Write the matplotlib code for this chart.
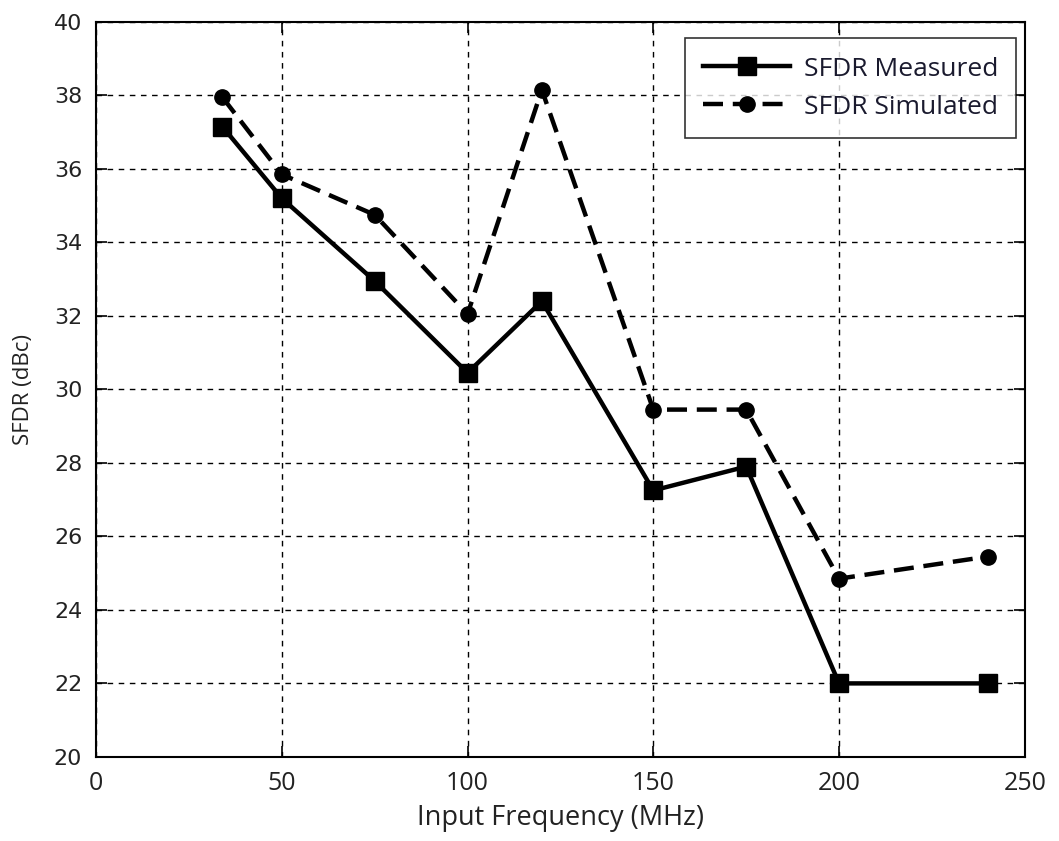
import matplotlib
matplotlib.use("Agg")
import matplotlib.pyplot as plt

freq = [34, 50, 75, 100, 120, 150, 175, 200, 240]
sfdr_measured = [37.15, 35.2, 32.95, 30.45, 32.4, 27.25, 27.9, 22.0, 22.0]
sfdr_simulated = [37.95, 35.85, 34.75, 32.05, 38.15, 29.45, 29.45, 24.85, 25.45]
xticks = [0, 50, 100, 150, 200, 250]
yticks = [20, 22, 24, 26, 28, 30, 32, 34, 36, 38, 40]

fig = plt.figure(figsize=(10.59, 8.41), dpi=100)
ax = fig.add_axes([0.0907, 0.100, 0.877, 0.874])

ax.plot(freq, sfdr_measured, '-', color='black', lw=3.2, marker='s', ms=13,
        label='SFDR Measured')
ax.plot(freq, sfdr_simulated, '--', color='black', lw=3.2, marker='o', ms=11,
        dashes=(4.5, 2.2), label='SFDR Simulated')

ax.set_xlim(0, 250)
ax.set_ylim(20, 40)
ax.set_xticks(xticks)
ax.set_xticklabels([str(v) for v in xticks], fontfamily='Open Sans', fontsize=18, color='#222222')
ax.set_yticks(yticks)
ax.set_yticklabels([str(v) for v in yticks], fontfamily='DejaVu Sans', fontsize=16, color='#222222')
ax.grid(True, color='black', linestyle=(0, (4, 4)), linewidth=1.0)
ax.tick_params(direction='in', length=8, width=1.2, top=True, right=True)
ax.tick_params(axis='x', pad=10)
ax.tick_params(axis='y', pad=10)
for s in ax.spines.values():
    s.set_linewidth(1.5)

ax.set_xlabel('Input Frequency (MHz)', fontsize=19.5, family='Open Sans', color='#222222', labelpad=6)
ax.set_ylabel('SFDR (dBc)', fontsize=16, family='Open Sans', color='#222222', labelpad=14)

leg = ax.legend(loc='upper right', frameon=True, fancybox=False,
                edgecolor='black', borderpad=0.7, handlelength=3.3, labelspacing=0.5,
                handletextpad=0.5, borderaxespad=0,
                prop={'family': 'Open Sans', 'size': 19}, bbox_to_anchor=(0.991, 0.978))
leg.get_frame().set_linewidth(1.2)
for t in leg.get_texts():
    t.set_color('#1a1a2e')

fig.savefig('out.png', dpi=100)
